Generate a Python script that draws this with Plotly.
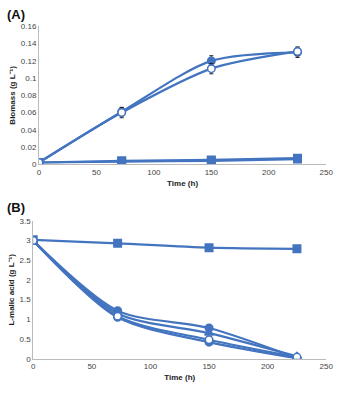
import plotly.graph_objects as go

time_h = [0, 72, 150, 225]

# Panel A: biomass (g/L)
bio_s1 = [0.002, 0.061, 0.120, 0.130]
bio_s1_err = [0.0, 0.005, 0.006, 0.006]
bio_s2 = [0.002, 0.060, 0.111, 0.131]
bio_s2_err = [0.0, 0.006, 0.006, 0.005]
bio_s3 = [0.002, 0.003, 0.004, 0.006]
bio_s4 = [0.002, 0.004, 0.005, 0.007]

# Panel B: L-malic acid (g/L)
mal_ctrl = [3.02, 2.93, 2.82, 2.79]
mal_ctrl_err = [0.0, 0.05, 0.03, 0.05]
mal_s1 = [3.0, 1.22, 0.78, 0.02]
mal_s2 = [3.0, 1.15, 0.65, 0.06]
mal_s3 = [3.0, 1.08, 0.48, 0.04]
mal_s4 = [3.0, 1.05, 0.42, 0.01]

yA_ticks = [0, 0.02, 0.04, 0.06, 0.08, 0.1, 0.12, 0.14, 0.16]
yA_text = ["0", "0.02", "0.04", "0.06", "0.08", "0.1", "0.12", "0.14", "0.16"]
yB_ticks = [0, 0.5, 1, 1.5, 2, 2.5, 3, 3.5]
yB_text = ["0", "0.5", "1", "1.5", "2", "2.5", "3", "3.5"]
x_ticks = [0, 50, 100, 150, 200, 250]

BLUE = "#4374c0"
fig = go.Figure()

def add(x, y, sym, xa, ya, err=None, open_=False):
    kw = {}
    if err is not None:
        kw["error_y"] = dict(type="data", array=err, visible=True, color="#222222",
                             thickness=1, width=2)
    fig.add_trace(go.Scatter(
        x=x, y=y, mode="lines+markers", xaxis=xa, yaxis=ya,
        line=dict(color=BLUE, width=2.2, shape="spline", smoothing=0.8),
        marker=dict(symbol=sym, size=7.5,
                    color="white" if open_ else BLUE,
                    line=dict(color=BLUE, width=1.5)),
        showlegend=False, **kw))

add(time_h, bio_s3, "square", "x", "y")
add(time_h, bio_s4, "square", "x", "y")
add(time_h, bio_s1, "circle", "x", "y", bio_s1_err)
add(time_h, bio_s2, "circle", "x", "y", bio_s2_err, open_=True)

add(time_h, mal_ctrl, "square", "x2", "y2", mal_ctrl_err)
add(time_h, mal_s1, "circle", "x2", "y2")
add(time_h, mal_s2, "triangle-up", "x2", "y2")
add(time_h, mal_s4, "circle", "x2", "y2")
add(time_h, mal_s3, "circle", "x2", "y2", open_=True)

tickfont = dict(family="Liberation Sans, Arial", size=8, color="#444444")
titlefont = dict(family="Liberation Sans, Arial", size=8, color="#222222", weight="bold")

axcommon = dict(showgrid=False, zeroline=False, showline=True, linecolor="#bbbbbb",
                linewidth=1, ticks="", tickfont=tickfont)

fig.update_layout(
    width=345, height=393, margin=dict(l=0, r=0, t=0, b=0),
    paper_bgcolor="white", plot_bgcolor="white",
    xaxis=dict(domain=[0.110, 0.965], range=[0, 250], tickvals=x_ticks, anchor="y",
               title=dict(text="Time (h)", font=titlefont, standoff=4), **axcommon),
    yaxis=dict(domain=[0.5827, 0.9415], range=[0, 0.16], tickvals=yA_ticks, ticktext=yA_text,
               anchor="x", title=dict(text="Biomass (g L⁻¹)", font=titlefont, standoff=3),
               **axcommon),
    xaxis2=dict(domain=[0.093, 0.965], range=[0, 250], tickvals=x_ticks, anchor="y2",
                title=dict(text="Time (h)", font=titlefont, standoff=4), **axcommon),
    yaxis2=dict(domain=[0.0763, 0.4351], range=[0, 3.5], tickvals=yB_ticks, ticktext=yB_text,
                anchor="x2", title=dict(text="L-malic acid (g L⁻¹)", font=titlefont, standoff=3),
                **axcommon),
    annotations=[
        dict(text="<b>(A)</b>", x=0.008, y=1 - 11 / 393, xref="paper", yref="paper",
             xanchor="left", yanchor="middle", showarrow=False,
             font=dict(family="Liberation Sans, Arial", size=13, color="#111111")),
        dict(text="<b>(B)</b>", x=0.008, y=1 - 208 / 393, xref="paper", yref="paper",
             xanchor="left", yanchor="middle", showarrow=False,
             font=dict(family="Liberation Sans, Arial", size=13, color="#111111")),
    ],
)

fig.write_html("out.html")
